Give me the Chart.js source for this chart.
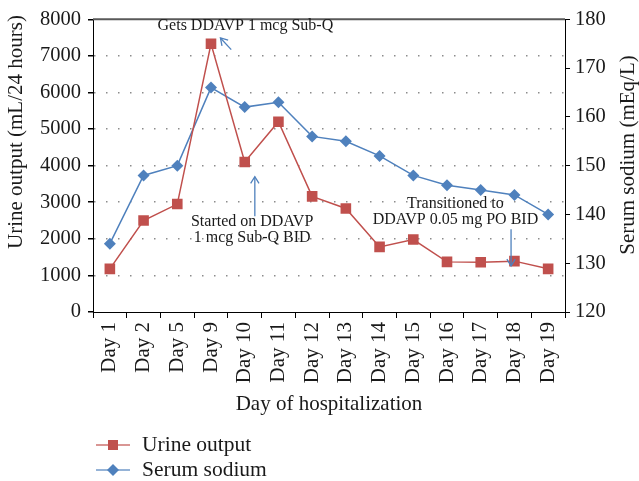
<!DOCTYPE html>
<html>
<head>
<meta charset="utf-8">
<script src="https://cdn.jsdelivr.net/npm/chart.js@4/dist/chart.umd.min.js"></script>
<style>
  html, body { margin: 0; padding: 0; background: #fff; }
  #wrap { width: 639px; height: 481px; position: relative; }
</style>
</head>
<body>
<div id="wrap"><canvas id="c" width="639" height="481"></canvas></div>
<script>
// ---- data ----
const categories = ['Day 1','Day 2','Day 5','Day 9','Day 10','Day 11','Day 12','Day 13','Day 14','Day 15','Day 16','Day 17','Day 18','Day 19'];
const urineOutput = [1180, 2500, 2950, 7330, 4100, 5200, 3160, 2830, 1780, 1980, 1370, 1360, 1390, 1180];
const serumSodium = [134, 148, 150, 166, 162, 163, 156, 155, 152, 148, 146, 145, 144, 140];
const urineTicks = [0, 1000, 2000, 3000, 4000, 5000, 6000, 7000, 8000];
const sodiumTicks = [120, 125, 130, 135, 140, 145, 150, 155, 160, 165, 170, 175, 180];
const seriesNames = ['Urine output', 'Serum sodium'];
const axisTitles = { x: 'Day of hospitalization', left: 'Urine output (mL/24 hours)', right: 'Serum sodium (mEq/L)' };

const RED = '#C0504D', BLUE = '#4F81BD';
const FONT = '"Liberation Serif", "DejaVu Serif", serif';
const TXT = '#1a1a1a';

// annotations (positions in data space: category index, urine value)
const notes = [
  { lines: ['Gets DDAVP 1 mcg Sub-Q'], x: 4.02, y: 7810, arrow: { from: [3.6, 7170], to: [3.28, 7490] } },
  { lines: ['Started on DDAVP', '1 mcg Sub-Q BID'], x: 4.22, y: 2460, arrow: { from: [4.3, 2620], to: [4.3, 3700] } },
  { lines: ['Transitioned to', 'DDAVP 0.05 mg PO BID'], x: 10.25, y: 2960, arrow: { from: [11.9, 2260], to: [11.9, 1260] } }
];

const extras = {
  id: 'extras',
  afterDraw(chart) {
    const ctx = chart.ctx, ca = chart.chartArea;
    const xs = chart.scales.x, ys = chart.scales.y;
    ctx.save();
    // top border
    ctx.strokeStyle = '#595959'; ctx.lineWidth = 2;
    ctx.beginPath(); ctx.moveTo(ca.left, ca.top); ctx.lineTo(ca.right, ca.top); ctx.stroke();

    // annotations
    ctx.font = '16px ' + FONT;
    ctx.fillStyle = TXT; ctx.textAlign = 'center'; ctx.textBaseline = 'middle';
    notes.forEach(n => {
      const cx = xs.getPixelForValue(n.x), cy = ys.getPixelForValue(n.y);
      n.lines.forEach((l, i) => ctx.fillText(l, cx, cy + i * 16));
      const x1 = xs.getPixelForValue(n.arrow.from[0]), y1 = ys.getPixelForValue(n.arrow.from[1]);
      const x2 = xs.getPixelForValue(n.arrow.to[0]), y2 = ys.getPixelForValue(n.arrow.to[1]);
      ctx.strokeStyle = BLUE; ctx.lineWidth = 1.3;
      ctx.beginPath(); ctx.moveTo(x1, y1); ctx.lineTo(x2, y2); ctx.stroke();
      const ang = Math.atan2(y2 - y1, x2 - x1), h = 8, sp = 0.55;
      ctx.beginPath();
      ctx.moveTo(x2 - h * Math.cos(ang - sp), y2 - h * Math.sin(ang - sp));
      ctx.lineTo(x2, y2);
      ctx.lineTo(x2 - h * Math.cos(ang + sp), y2 - h * Math.sin(ang + sp));
      ctx.stroke();
    });

    // axis titles (y)
    ctx.font = '21px ' + FONT; ctx.fillStyle = TXT;
    ctx.save(); ctx.translate(16, 132); ctx.rotate(-Math.PI / 2);
    ctx.fillText(axisTitles.left, 0, 0); ctx.restore();
    ctx.save(); ctx.translate(628, 155); ctx.rotate(-Math.PI / 2);
    ctx.fillText(axisTitles.right, 0, 0); ctx.restore();

    // legend
    const items = chart.data.datasets;
    items.forEach((d, i) => {
      const y = 445 + i * 25;
      ctx.strokeStyle = d.borderColor; ctx.globalAlpha = 0.8; ctx.lineWidth = 1.5;
      ctx.beginPath(); ctx.moveTo(96, y); ctx.lineTo(130, y); ctx.stroke();
      ctx.globalAlpha = 1; ctx.fillStyle = d.backgroundColor;
      ctx.beginPath();
      if (d.pointStyle === 'rect') { ctx.rect(108, y - 5, 10, 10); }
      else { ctx.moveTo(113, y - 6); ctx.lineTo(119, y); ctx.lineTo(113, y + 6); ctx.lineTo(107, y); ctx.closePath(); }
      ctx.fill();
      ctx.fillStyle = TXT; ctx.textAlign = 'left'; ctx.textBaseline = 'middle';
      ctx.font = '21.5px ' + FONT;
      ctx.fillText(d.label, 142, y);
    });
    ctx.restore();
  }
};

new Chart(document.getElementById('c'), {
  type: 'line',
  data: {
    labels: categories,
    datasets: [
      { label: seriesNames[0], data: urineOutput, yAxisID: 'y', borderColor: RED, backgroundColor: RED,
        borderWidth: 1.5, pointStyle: 'rect', pointRadius: 7.5, pointBorderWidth: 0, tension: 0 },
      { label: seriesNames[1], data: serumSodium, yAxisID: 'y2', borderColor: BLUE, backgroundColor: BLUE,
        borderWidth: 1.5, pointStyle: 'rectRot', pointRadius: 6, pointBorderWidth: 0, tension: 0 }
    ]
  },
  options: {
    responsive: false, animation: false, devicePixelRatio: 1,
    layout: { padding: { top: 13, bottom: 49, left: 0, right: 0 } },
    plugins: { legend: { display: false }, tooltip: { enabled: false } },
    scales: {
      x: {
        offset: true,
        afterFit(s) { s.height = 120; },
        grid: { offset: true, drawOnChartArea: false, drawTicks: true, tickLength: 6, tickColor: '#000' },
        border: { display: true, color: '#000', width: 1 },
        ticks: { minRotation: 90, maxRotation: 90, padding: 4, color: TXT, font: { family: FONT, size: 21 } },
        title: { display: true, text: axisTitles.x, color: TXT, font: { family: FONT, size: 21 }, padding: { top: 0, bottom: 15 } }
      },
      y: {
        position: 'left', min: urineTicks[0], max: urineTicks[urineTicks.length - 1],
        afterFit(s) { s.width = 93; },
        afterBuildTicks(s) { s.ticks = urineTicks.map(v => ({ value: v })); },
        grid: {
          drawOnChartArea: true, tickLength: 5, tickColor: '#000',
          color: c => (c.tick && (c.tick.value === 0 || c.tick.value === 8000)) ? 'rgba(0,0,0,0)' : '#8c8c8c',
          lineWidth: 1.5
        },
        border: { display: true, color: '#000', width: 1, dash: [1.5, 10.5] },
        ticks: { padding: 7, color: TXT, font: { family: FONT, size: 20.5 }, callback: v => String(v) }
      },
      y2: {
        position: 'right', min: sodiumTicks[0], max: sodiumTicks[sodiumTicks.length - 1],
        afterFit(s) { s.width = 74; },
        afterBuildTicks(s) { s.ticks = sodiumTicks.map(v => ({ value: v })); },
        grid: { drawOnChartArea: false, tickLength: 5, tickColor: '#000' },
        border: { display: true, color: '#000', width: 1 },
        ticks: { padding: 5, color: TXT, font: { family: FONT, size: 20.5 }, callback: v => String(v) }
      }
    }
  },
  plugins: [extras]
});
</script>
</body>
</html>
